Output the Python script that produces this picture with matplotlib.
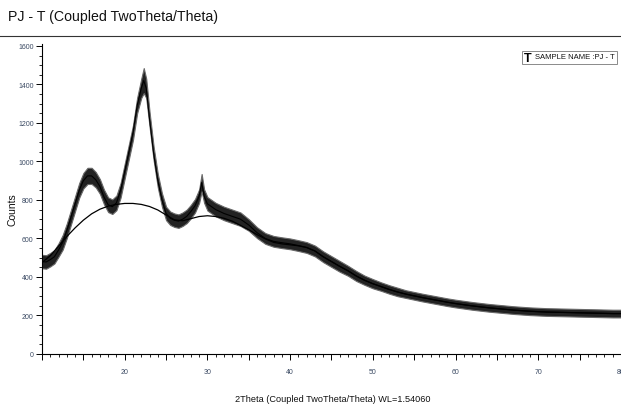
from __future__ import annotations

import matplotlib

matplotlib.use("Agg")
import matplotlib.pyplot as plt
import numpy as np
from matplotlib import font_manager
from matplotlib.lines import Line2D
from matplotlib.patches import Rectangle
from matplotlib.ticker import FixedLocator, FuncFormatter, MultipleLocator

OUT = "out.png"

# 测得曲线：2θ 位置、中心计数、噪声半宽
TWO_THETA = [
    10.0, 10.5, 11.0, 11.5, 12.0, 12.5, 13.0, 13.5, 14.0, 14.5,
    15.0, 15.5, 16.0, 16.5, 17.0, 17.5, 18.0, 18.5, 19.0, 19.5,
    20.0, 20.5, 21.0, 21.5, 22.0, 22.3, 22.6, 23.0, 23.5, 24.0,
    24.5, 25.0, 25.5, 26.0, 26.5, 27.0, 27.5, 28.0, 28.5, 29.0,
    29.3, 29.6, 30.0, 30.5, 31.0,
    32, 33, 34, 35, 36, 37, 38, 39, 40, 41, 42, 43, 44, 45, 46, 47, 48, 49,
    50, 51, 52, 53, 54, 55, 56, 57, 58, 59, 60, 61, 62, 63, 64, 65, 66, 67,
    68, 69, 70, 71, 72, 73, 74, 75, 76, 77, 78, 79, 80,
]
COUNTS = [
    480, 478, 490, 505, 540, 580, 640, 710, 780, 850,
    900, 925, 925, 905, 870, 815, 775, 765, 785, 850,
    950, 1050, 1150, 1290, 1380, 1420, 1380, 1220, 1040, 900,
    800, 730, 705, 695, 690, 700, 715, 740, 770, 820,
    890, 820, 780, 765, 750,
    730, 715, 700, 670, 630, 600, 585, 578, 572, 563, 553, 535, 505, 480, 455, 432, 405, 383,
    365, 350, 335, 322, 311, 302, 293, 285, 277, 269, 262, 256, 250, 245, 240, 236, 232, 228,
    225, 222, 220, 218, 217, 216, 215, 214, 213, 212, 211, 210, 210,
]
SPREAD = [
    35, 35, 35, 35, 35, 38, 38, 38, 38, 38,
    40, 42, 42, 40, 38, 38, 38, 38, 38, 38,
    38, 38, 38, 40, 50, 65, 50, 38, 35, 35,
    35, 35, 35, 35, 35, 35, 35, 35, 35, 35,
    45, 35, 35, 35, 35,
    35, 35, 35, 30, 28, 28, 28, 28, 28, 28, 28, 28, 28, 28, 28, 26, 26, 24,
    24, 22, 22, 22, 20, 20, 20, 20, 20, 20, 20, 20, 20, 20, 20, 20, 20, 20,
    20, 20, 20, 20, 20, 20, 20, 20, 20, 20, 20, 20, 20,
]

# 拟合背景线
BG_THETA = list(range(10, 81))
BG_COUNTS = [
    475, 510, 560, 610, 655, 695, 728, 752, 768, 777,
    782, 782, 777, 766, 748, 722, 697, 692, 703, 714,
    718, 714, 705, 690, 668, 645, 620, 598, 580, 572,
    567, 562, 553, 535, 505, 480, 455, 432, 405, 383,
    365, 350, 335, 322, 311, 302, 293, 285, 277, 269,
    262, 256, 250, 245, 240, 236, 232, 228, 225, 222,
    220, 218, 217, 216, 215, 214, 213, 212, 211, 210, 210,
]

X_LABELED = [20, 30, 40, 50, 60, 70, 80]
Y_MAJOR = [0, 200, 400, 600, 800, 1000, 1200, 1400, 1600]

TICK_COLOR = "#3b4a63"
INK = "#111111"


def pick_font() -> str:
    names = {f.name for f in font_manager.fontManager.ttflist}
    for name in ["Liberation Sans Narrow", "Liberation Sans", "DejaVu Sans"]:
        if name in names:
            return name
    return "DejaVu Sans"


def main() -> None:
    font = pick_font()
    plt.rcParams["font.family"] = [font, "DejaVu Sans"]

    W, H = 621, 406
    fig = plt.figure(figsize=(W / 100, H / 100), dpi=100, facecolor="white")

    # 标题和分隔线
    fig.text(8 / W, 1 - 17 / H, "PJ - T (Coupled TwoTheta/Theta)", fontsize=10.2, color=INK, va="center", ha="left")
    fig.add_artist(Line2D([0, 1], [1 - 37 / H, 1 - 37 / H], transform=fig.transFigure, color="#333333", lw=0.8))

    # 主坐标轴
    ax = fig.add_axes([42 / W, 1 - 355 / H, (W - 42) / W, (355 - 45) / H])
    theta = np.array(TWO_THETA, dtype=float)
    counts = np.array(COUNTS, dtype=float)
    spread = np.array(SPREAD, dtype=float)

    ax.fill_between(theta, counts - spread, counts + spread, color="#222222", lw=0.8, edgecolor="#6a6a6a")
    ax.plot(theta, counts, color="black", lw=0.8)
    ax.plot(BG_THETA, BG_COUNTS, color="black", lw=0.9)

    ax.set_xlim(10, 80)
    ax.set_ylim(0, 1610)
    ax.spines[["top", "right"]].set_visible(False)
    for side in ["left", "bottom"]:
        ax.spines[side].set_linewidth(0.8)
        ax.spines[side].set_color("black")

    # 刻度：x 每 5 度主刻度（只标 10 的倍数），每 1 度副刻度
    ax.xaxis.set_major_locator(MultipleLocator(5))
    ax.xaxis.set_minor_locator(MultipleLocator(1))
    ax.xaxis.set_major_formatter(FuncFormatter(lambda v, p: f"{int(v)}" if int(round(v)) in X_LABELED else ""))
    ax.yaxis.set_major_locator(FixedLocator(Y_MAJOR))
    ax.yaxis.set_minor_locator(MultipleLocator(50))
    ax.tick_params(axis="both", which="major", direction="out", length=4, width=0.7,
                   labelsize=5, labelcolor=TICK_COLOR, color="black", pad=2)
    ax.tick_params(axis="both", which="minor", direction="out", length=2.5, width=0.6, color="black")
    ax.tick_params(axis="x", which="major", pad=6)

    # 轴标题
    fig.text(12 / W, 1 - 210 / H, "Counts", rotation=90, fontsize=7.5, color=INK, ha="center", va="center")
    fig.text(333 / W, 1 - 400 / H, "2Theta (Coupled TwoTheta/Theta) WL=1.54060", fontsize=6.6,
             color=INK, ha="center", va="center")

    # 图例框
    fig.patches.append(Rectangle((522 / W, 1 - 65 / H), 95 / W, 13 / H, transform=fig.transFigure,
                                 facecolor="white", edgecolor="#8a8a8a", lw=0.7))
    fig.text(528 / W, 1 - 59 / H, "T", fontsize=9, fontweight="bold", color="black", ha="center", va="center")
    fig.text(535 / W, 1 - 58 / H, "SAMPLE NAME :PJ - T", fontsize=5.5, color=INK, ha="left", va="center")

    fig.savefig(OUT, dpi=100, facecolor="white")
    plt.close(fig)


if __name__ == "__main__":
    main()
